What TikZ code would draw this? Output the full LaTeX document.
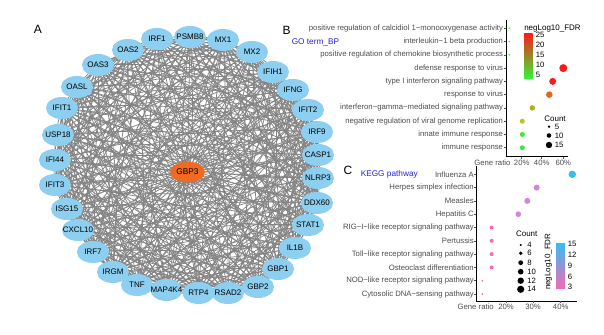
\documentclass[tikz,border=0pt]{standalone}
\usepackage{fontspec}
\setmainfont{Liberation Sans}
\usetikzlibrary{shapes.geometric,backgrounds}
\definecolor{skyblue}{HTML}{8DCFF0}
\definecolor{hubred}{HTML}{F06A24}
\definecolor{linkgray}{HTML}{848484}
\definecolor{axisgray}{HTML}{4D4D4D}
\definecolor{titleblue}{HTML}{2626D9}
\definecolor{fdrhigh}{HTML}{FF1A1A}
\definecolor{fdrorange}{HTML}{E5661A}
\definecolor{fdrolive}{HTML}{B5AE22}
\definecolor{fdrlime}{HTML}{A6CC22}
\definecolor{fdrgreen}{HTML}{3DE83A}
\definecolor{fdrlow}{HTML}{33F533}
\definecolor{fdrmid}{HTML}{C9A826}
\definecolor{keggblue}{HTML}{35BDF2}
\definecolor{keggmid}{HTML}{C490DC}
\definecolor{keggpink}{HTML}{F56AB6}
\definecolor{keggviolet}{HTML}{C98BD9}
\definecolor{keggorchid}{HTML}{CC89D5}
\definecolor{keggmauve}{HTML}{D985CB}
\tikzset{
  gene/.style={ellipse,fill=skyblue,minimum width=24pt,minimum height=16.5pt,
    inner sep=0pt},
  genetext/.style={inner sep=0pt,font=\fontsize{6}{7}\selectfont},
  hub/.style={ellipse,fill=hubred,minimum width=26pt,minimum height=15.5pt,
    inner sep=0pt,font=\fontsize{6.2}{7}\selectfont},
  link/.style={draw=linkgray,line width=0.55pt},
  termlab/.style={anchor=east,inner sep=0pt,text=axisgray,font=\fontsize{5.8}{6}\selectfont},
  ticklab/.style={inner sep=0pt,text=axisgray,font=\fontsize{5.8}{6}\selectfont},
  legtitle/.style={inner sep=0pt,font=\fontsize{6}{7}\selectfont},
  leglab/.style={anchor=west,inner sep=0pt,font=\fontsize{5.8}{6}\selectfont},
  panel/.style={inner sep=0pt,font=\fontsize{9}{10}\selectfont},
  dbtitle/.style={anchor=west,inner sep=0pt,text=titleblue,font=\fontsize{6.2}{7}\selectfont},
  axis/.style={draw=black,line width=0.5pt},
  tickmark/.style={draw=axisgray,line width=0.4pt}
}
\begin{document}
\begin{tikzpicture}[x=0.75pt,y=-0.75pt]
  \useasboundingbox (0,0) rectangle (604,335);
  \node[panel] (labA) at (38,29) {A};
  \foreach \name/\x/\y [count=\n] in {IRF1/157/39, PSMB8/190/37, MX1/223/40,
      MX2/252/52, IFIH1/273/72, IFNG/293/90, IFIT2/308/110, IRF9/317/132,
      CASP1/318/155, NLRP3/318/178, DDX60/317/203, STAT1/308/225, IL1B/295/248,
      GBP1/278/269, GBP2/258/287, RSAD2/228/293, RTP4/198.5/293, MAP4K4/166.5/290,
      TNF/137/285, IRGM/113/272, IRF7/93/252, CXCL10/78/230, ISG15/67/209,
      IFIT3/55/185, IFI44/55/160, USP18/58/135, IFIT1/62/108, OASL/77/87,
      OAS3/98/65, OAS2/128/50}
    \node[gene] (g\n) at (\x,\y) {};
  \foreach \name [count=\n] in {IRF1, PSMB8, MX1, MX2, IFIH1, IFNG, IFIT2, IRF9,
      CASP1, NLRP3, DDX60, STAT1, IL1B, GBP1, GBP2, RSAD2, RTP4, MAP4K4, TNF,
      IRGM, IRF7, CXCL10, ISG15, IFIT3, IFI44, USP18, IFIT1, OASL, OAS3, OAS2}
    \node[genetext] (t\n) at (g\n.center) {\name};
  \node[hub] (hub) at (187.5,172) {GBP3};
  \begin{scope}[on background layer]
    \fill[white] (0,0) rectangle (604,335);
    \foreach \i in {1,...,29}{
      \pgfmathtruncatemacro\k{\i+1}
      \foreach \j in {\k,...,30}{
        \pgfmathtruncatemacro\bend{mod(\i+\j,2)==0 ? 9 : -9}
        \draw[link] (g\i.center) to[bend left=\bend] (g\j.center);
      }
    }
    \foreach \i in {1,...,30}
      \draw[link] (hub.center) -- (g\i.center);
  \end{scope}

  \node[panel] (labB) at (286.5,30) {B};
  \node[dbtitle] (gobp) at (291.5,42) {GO term\_BP};
  \foreach \term/\gx/\gr/\gc [count=\n] in {
      positive regulation of calcidiol 1−monooxygenase activity/509.3/0.9/fdrlow,
      interleukin−1 beta production/509.3/0.9/fdrlow,
      positive regulation of chemokine biosynthetic process/509.3/0.9/fdrlow,
      defense response to virus/563.3/4/fdrhigh,
      type I interferon signaling pathway/552.7/3.5/fdrhigh,
      response to virus/549.3/3.3/fdrorange,
      interferon−gamma−mediated signaling pathway/532.3/2.8/fdrolive,
      negative regulation of viral genome replication/522.3/2.5/fdrlime,
      innate immune response/522.3/2.5/fdrgreen,
      immune response/522.3/2.5/fdrgreen}{
    \pgfmathsetmacro\yy{28.3+(\n-1)*13.27}
    \node[termlab] (bt\n) at (503.3,\yy) {\term};
    \draw[tickmark] (503.9,\yy) -- (506.5,\yy);
    \fill[\gc] (\gx,\yy) circle[radius=\gr*0.75pt];
  }
  \draw[axis] (506.5,20.5) -- (506.5,156.7) -- (568,156.7);
  \foreach \tx/\tl [count=\n] in {521.7/20, 541.7/40, 563.3/60}{
    \draw[tickmark] (\tx,156.7) -- (\tx,158.8);
    \node[ticklab] (bx\n) at (\tx,162.5) {\tl\%};
  }
  \node[ticklab,anchor=east] (bratio) at (510.7,162.5) {Gene ratio};
  \node[legtitle,anchor=west] (fdrb) at (524,28.3) {negLog10\_FDR};
  \shade[top color=fdrhigh,middle color=fdrmid,bottom color=fdrlow]
    (524,33.3) rectangle (532.7,78.3);
  \foreach \v [count=\n] in {25,20,15,10,5}
    \node[leglab] (fb\n) at (535.5,{35.3+(\n-1)*10}) {\v};
  \node[legtitle] (countb) at (555,118.3) {Count};
  \foreach \v/\cy/\cr [count=\n] in {5/126.7/1.3, 10/135.5/2.3, 15/145/3.2}{
    \fill[black] (549,\cy) circle[radius=\cr*0.75pt];
    \node[leglab] (cb\n) at (554.5,\cy) {\v};
  }

  \node[panel] (labC) at (348,170) {C};
  \node[dbtitle] (kegg) at (360.5,174.3) {KEGG pathway};
  \foreach \term/\gx/\gr/\gc [count=\n] in {
      Influenza A/572.3/3.7/keggblue,
      Herpes simplex infection/536.7/3/keggviolet,
      Measles/527.3/3/keggorchid,
      Hepatitis C/518.3/2.8/keggmauve,
      RIG−I−like receptor signaling pathway/491.7/2/keggpink,
      Pertussis/491.7/2/keggpink,
      Toll−like receptor signaling pathway/491.7/2/keggpink,
      Osteoclast differentiation/491.7/2/keggpink,
      NOD−like receptor signaling pathway/482.3/1/keggpink,
      Cytosolic DNA−sensing pathway/482.3/1/keggpink}{
    \pgfmathsetmacro\yy{174.3+(\n-1)*13.3}
    \node[termlab] (ct\n) at (474,\yy) {\term};
    \draw[tickmark] (474.4,\yy) -- (476.7,\yy);
    \fill[\gc] (\gx,\yy) circle[radius=\gr*0.75pt];
  }
  \draw[axis] (476.7,166.3) -- (476.7,301) -- (577,301);
  \foreach \tx/\tl [count=\n] in {506/20, 533/30, 560.7/40}{
    \draw[tickmark] (\tx,301) -- (\tx,303.1);
    \node[ticklab] (cx\n) at (\tx,306.7) {\tl\%};
  }
  \node[ticklab,anchor=east] (cratio) at (494,306.7) {Gene ratio};
  \node[legtitle] (countc) at (526.7,234) {Count};
  \foreach \v/\cy/\cr [count=\n] in {4/245/1.1, 6/253.3/1.9, 8/262.7/2.4,
      10/271.7/2.8, 12/280.7/3.2, 14/289.3/3.6}{
    \fill[black] (520.7,\cy) circle[radius=\cr*0.75pt];
    \node[leglab] (cc\n) at (527,\cy) {\v};
  }
  \node[legtitle,rotate=90] (fdrc) at (548.3,261.7) {negLog10\_FDR};
  \shade[top color=keggblue,middle color=keggmid,bottom color=keggpink]
    (556,243.3) rectangle (565,288.3);
  \foreach \v [count=\n] in {15,12,9,6,3}
    \node[leglab] (fc\n) at (567.5,{244+(\n-1)*10.8}) {\v};
\end{tikzpicture}
\end{document}
